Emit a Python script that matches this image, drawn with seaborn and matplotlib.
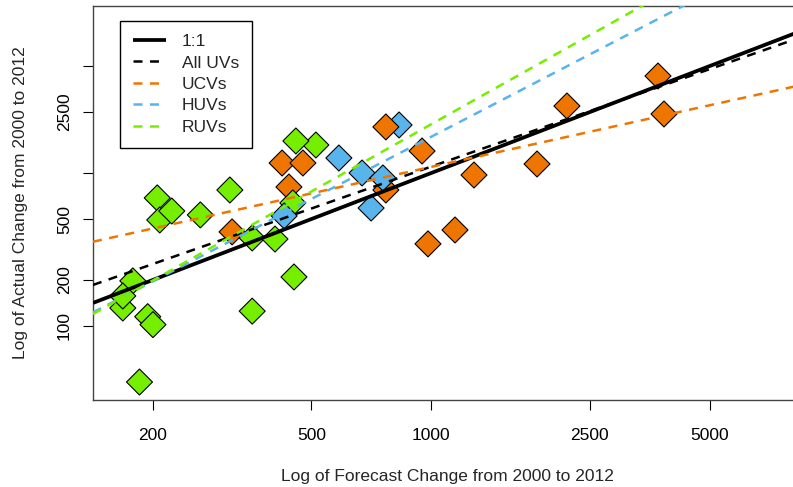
import numpy as np
import pandas as pd
import matplotlib
matplotlib.use("Agg")
import matplotlib.pyplot as plt
from matplotlib.ticker import FixedLocator, FixedFormatter, NullLocator
import seaborn as sns

# Forecast vs. actual change, one row per area (drawing order kept as listed)
forecast = [830,
            316, 422, 476, 439, 769, 769, 948, 1280, 1147, 981, 1843, 2191, 3709, 3840,
            449,
            586, 670, 756, 706, 427,
            205, 208, 223, 263, 312, 355, 405, 513, 457, 452, 355,
            168, 178, 168, 194, 200, 185]
actual = [2060,
          412, 1162, 1162, 810, 2000, 774, 1392, 970, 424, 344, 1145, 2741, 4305, 2430,
          637,
          1253, 1000, 928, 590, 524,
          687, 493, 564, 532, 774, 376, 370, 1524, 1619, 209, 125,
          131, 197, 157, 115, 102, 43]
uv_type = (["HUVs"]
           + ["UCVs"] * 14
           + ["RUVs"]
           + ["HUVs"] * 5
           + ["RUVs"] * 17)

type_colors = {"UCVs": "#EE7600", "HUVs": "#58B4EA", "RUVs": "#76EE00"}

# Log-log regression fits: log10(actual) = intercept + slope * log10(forecast)
fit_labels = ["All UVs", "UCVs", "HUVs", "RUVs"]
fit_intercepts = [0.309, 1.312, -0.819, -1.064]
fit_slopes = [0.911, 0.576, 1.352, 1.461]
fit_colors = ["black", "#EE7600", "#58B4EA", "#76EE00"]

x_ticks = [200, 500, 1000, 2500, 5000]
y_ticks = [100, 200, 500, 1000, 2500, 5000]
y_tick_labels = ["100", "200", "500", "", "2500", ""]

x_limits = (141.4, 8480)
y_limits = (32.8, 12350)

df = pd.DataFrame({"forecast": forecast, "actual": actual, "type": uv_type})

sns.set_style("white")
plt.rcParams["font.family"] = ["Liberation Sans", "DejaVu Sans"]
FS = 12.5

fig = plt.figure(figsize=(7.93, 4.87), dpi=100)
ax = fig.add_axes([93 / 793, 87 / 487, 708 / 793, 394 / 487])
ax.set_xscale("log")
ax.set_yscale("log")

sns.scatterplot(data=df, x="forecast", y="actual", hue="type",
                palette=type_colors, marker="D", s=175,
                edgecolor="black", linewidth=0.8, legend=False,
                ax=ax, zorder=2)

xs = np.geomspace(x_limits[0], x_limits[1], 50)
handles = []
h, = ax.plot(xs, xs, color="black", lw=2.7, solid_capstyle="butt",
             label="1:1", zorder=3)
handles.append(h)
for lab, a, b, c in zip(fit_labels, fit_intercepts, fit_slopes, fit_colors):
    ys = 10 ** (a + b * np.log10(xs))
    h, = ax.plot(xs, ys, color=c, lw=1.8, linestyle=(0, (3.6, 3.0)),
                 dash_capstyle="butt", label=lab, zorder=3)
    handles.append(h)

ax.set_xlim(*x_limits)
ax.set_ylim(*y_limits)

ax.xaxis.set_major_locator(FixedLocator(x_ticks))
ax.xaxis.set_major_formatter(FixedFormatter([str(v) for v in x_ticks]))
ax.yaxis.set_major_locator(FixedLocator(y_ticks))
ax.yaxis.set_major_formatter(FixedFormatter(y_tick_labels))
ax.xaxis.set_minor_locator(NullLocator())
ax.yaxis.set_minor_locator(NullLocator())

ax.tick_params(axis="both", which="major", direction="out", length=7.2,
               width=0.8, color="black", labelsize=FS, labelcolor="black",
               bottom=True, left=True)
ax.tick_params(axis="x", pad=13)
ax.tick_params(axis="y", pad=8)
for t in ax.get_yticklabels():
    t.set_rotation(90)
    t.set_va("center")
    t.set_ha("right")

for sp in ax.spines.values():
    sp.set_color("#444444")
    sp.set_linewidth(1.0)

ax.set_xlabel("Log of Forecast Change from 2000 to 2012", fontsize=FS)
ax.set_ylabel("Log of Actual Change from 2000 to 2012", fontsize=FS)
ax.xaxis.label.set_va("center")
ax.yaxis.label.set_va("center")
ax.xaxis.set_label_coords(0.5, (400 - 476) / 394)
ax.yaxis.set_label_coords((21 - 93) / 708, 0.5)

leg = ax.legend(handles=handles, loc="upper left",
                bbox_to_anchor=((120 - 93) / 708, (400 - 21) / 394),
                borderaxespad=0, fontsize=FS, frameon=True, fancybox=False,
                handlelength=1.9, handletextpad=0.9, labelspacing=0.36,
                borderpad=0.75)
leg.get_frame().set_edgecolor("black")
leg.get_frame().set_linewidth(1.0)
leg.get_frame().set_alpha(1)

fig.savefig("out.png", dpi=100)
